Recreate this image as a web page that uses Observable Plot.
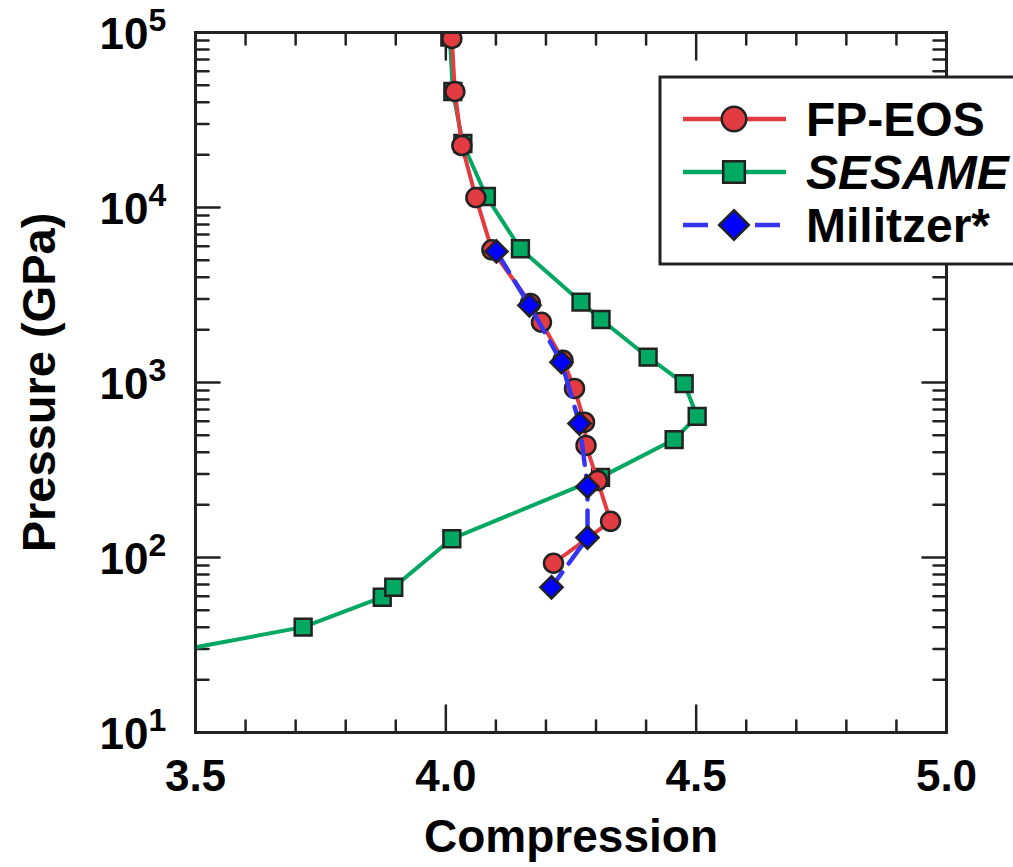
<!DOCTYPE html>
<html>
<head>
<meta charset="utf-8">
<script src="https://cdn.jsdelivr.net/npm/d3@7"></script>
<script src="https://cdn.jsdelivr.net/npm/@observablehq/plot@0.6"></script>
<style>
  html, body { margin: 0; padding: 0; background: #fff; overflow: hidden; }
  #wrap { position: relative; width: 1013px; height: 867px; font-family: "Liberation Sans", Arial, sans-serif; }
  #legend { position: absolute; left: 0; top: 0; }
</style>
</head>
<body>
<div id="wrap"></div>
<script>
// ---- data ----
const fpC = [4.012, 4.018, 4.032, 4.060, 4.092, 4.169, 4.191, 4.234, 4.257, 4.277, 4.280, 4.303, 4.329, 4.215];
const fpP = [92500, 46000, 22600, 11400, 5730, 2830, 2210, 1340, 925, 593, 437, 275, 161, 92.7];

const sesC = [3.30, 3.715, 3.873, 3.896, 4.012, 4.309, 4.456, 4.502, 4.476, 4.404, 4.310, 4.270, 4.149, 4.081, 4.034, 4.014, 4.008];
const sesP = [24, 40, 59.3, 67.6, 128, 287, 472, 641, 986, 1395, 2290, 2880, 5810, 11560, 23200, 46000, 94000];

const milC = [4.101, 4.167, 4.231, 4.267, 4.283, 4.283, 4.211];
const milP = [5610, 2760, 1306, 583, 254, 130, 67.6];

const xMajor = [3.5, 4.0, 4.5, 5.0];
const xMajorLabels = ["3.5", "4.0", "4.5", "5.0"];
const xMinor = [3.6, 3.7, 3.8, 3.9, 4.1, 4.2, 4.3, 4.4, 4.6, 4.7, 4.8, 4.9];
const yMajor = [10, 100, 1000, 10000, 100000];
const yExponents = ["1", "2", "3", "4", "5"];
const yMinorMult = [2, 3, 4, 5, 6, 7, 8, 9];

const seriesNames = ["FP-EOS", "SESAME", "Militzer*"];
const colRed = "#e23b41", colGreen = "#00a862", colBlue = "#0000ff", colBlueLine = "#3434f2";
const ink = "#222";

// ---- derived tables ----
const fp = fpC.map((c, i) => ({c, p: fpP[i]}));
const ses = sesC.map((c, i) => ({c, p: sesP[i]}));
const mil = milC.map((c, i) => ({c, p: milP[i]}));
const yMinor = [];
for (let d = 10; d < 100000; d *= 10) for (const m of yMinorMult) yMinor.push(d * m);

const lineShape = { draw(ctx, l) { ctx.moveTo(0, 0); ctx.lineTo(0, -l); } };
function ticks(data, channel, anchor, rotate, length) {
  const o = {frameAnchor: anchor, anchor: "start", rotate, length, shape: lineShape, stroke: ink, strokeWidth: 2.5};
  o[channel] = d => d;
  return Plot.vector(data, o);
}

const plot = Plot.plot({
  width: 1013,
  height: 867,
  marginLeft: 195,
  marginRight: 67,
  marginTop: 32,
  marginBottom: 135,
  style: {fontFamily: "Liberation Sans, Arial, sans-serif", background: "transparent"},
  x: {domain: [3.5, 5.0], axis: null},
  y: {type: "log", domain: [10, 100000], axis: null},
  marks: [
    // ticks
    ticks(xMajor, "x", "bottom", 0, 27),
    ticks(xMinor, "x", "bottom", 0, 12),
    ticks(xMajor, "x", "top", 180, 27),
    ticks(xMinor, "x", "top", 180, 12),
    ticks(yMajor, "y", "left", 90, 24),
    ticks(yMinor, "y", "left", 90, 13),
    ticks(yMajor, "y", "right", -90, 24),
    ticks(yMinor, "y", "right", -90, 13),
    // data
    Plot.line(ses, {x: "c", y: "p", stroke: colGreen, strokeWidth: 4, clip: true}),
    Plot.dot(ses, {x: "c", y: "p", symbol: "square", r: 9.5, fill: colGreen, stroke: ink, strokeWidth: 2.5, clip: true}),
    Plot.line(fp, {x: "c", y: "p", stroke: colRed, strokeWidth: 4, clip: true}),
    Plot.dot(fp, {x: "c", y: "p", symbol: "circle", r: 9.5, fill: colRed, stroke: ink, strokeWidth: 2.5, clip: true}),
    Plot.line(mil, {x: "c", y: "p", stroke: colBlueLine, strokeWidth: 4.5, strokeDasharray: "24,11", clip: true}),
    Plot.dot(mil, {x: "c", y: "p", symbol: "diamond2", r: 10, fill: colBlue, stroke: ink, strokeWidth: 2.5, clip: true}),
    Plot.frame({stroke: ink, strokeWidth: 3}),
    // tick labels
    Plot.text(xMajor, {x: d => d, text: (d, i) => xMajorLabels[i], frameAnchor: "bottom", dy: 44, fontSize: 44, fontWeight: "bold", fill: "#000", lineAnchor: "middle"}),
    Plot.text(yMajor, {y: d => d, text: () => "10", frameAnchor: "left", dx: -47, dy: 2, textAnchor: "end", fontSize: 44, fontWeight: "bold", fill: "#000", lineAnchor: "middle"}),
    Plot.text(yMajor, {y: d => d, text: (d, i) => yExponents[i], frameAnchor: "left", dx: -47, dy: -12, textAnchor: "start", fontSize: 32, fontWeight: "bold", fill: "#000", lineAnchor: "middle"}),
    // axis titles
    Plot.text(["Compression"], {frameAnchor: "bottom", text: d => d, dy: 105, fontSize: 46, fontWeight: "bold", fill: "#000", lineAnchor: "middle", textAnchor: "middle"}),
    Plot.text(["Pressure (GPa)"], {frameAnchor: "left", text: d => d, dx: -156, dy: 0, rotate: -90, fontSize: 47, fontWeight: "bold", fill: "#000", lineAnchor: "middle", textAnchor: "middle"})
  ]
});

const wrap = document.getElementById("wrap");
wrap.appendChild(plot);

// ---- legend (overlay) ----
const legendRows = [
  {name: seriesNames[0], color: colRed, fill: colRed, symbol: d3.symbolCircle, size: 470, dash: null, italic: false},
  {name: seriesNames[1], color: colGreen, fill: colGreen, symbol: d3.symbolSquare, size: 470, dash: null, italic: true},
  {name: seriesNames[2], color: colBlueLine, fill: colBlue, symbol: d3.symbolDiamond2, size: 560, dash: "25,11", italic: false}
];
const lg = d3.select(wrap).append("svg").attr("id", "legend").attr("width", 1013).attr("height", 867)
  .style("pointer-events", "none");
lg.append("rect").attr("x", 660).attr("y", 77).attr("width", 400).attr("height", 187)
  .attr("fill", "#fff").attr("stroke", ink).attr("stroke-width", 3);
legendRows.forEach((r, i) => {
  const y = 119 + i * 53;
  const line = lg.append("line").attr("x1", 683).attr("x2", 786).attr("y1", y).attr("y2", y)
    .attr("stroke", r.color).attr("stroke-width", 4.5);
  if (r.dash) line.attr("stroke-dasharray", r.dash);
  lg.append("path").attr("d", d3.symbol(r.symbol, r.size)()).attr("transform", `translate(734,${y})`)
    .attr("fill", r.fill).attr("stroke", ink).attr("stroke-width", 2.5);
  lg.append("text").attr("x", 806).attr("y", y).attr("dy", "0.36em")
    .attr("font-family", "Liberation Sans, Arial, sans-serif").attr("font-size", 48).attr("font-weight", "bold")
    .attr("font-style", r.italic ? "italic" : "normal").attr("fill", "#000").text(r.name);
});
</script>
</body>
</html>
